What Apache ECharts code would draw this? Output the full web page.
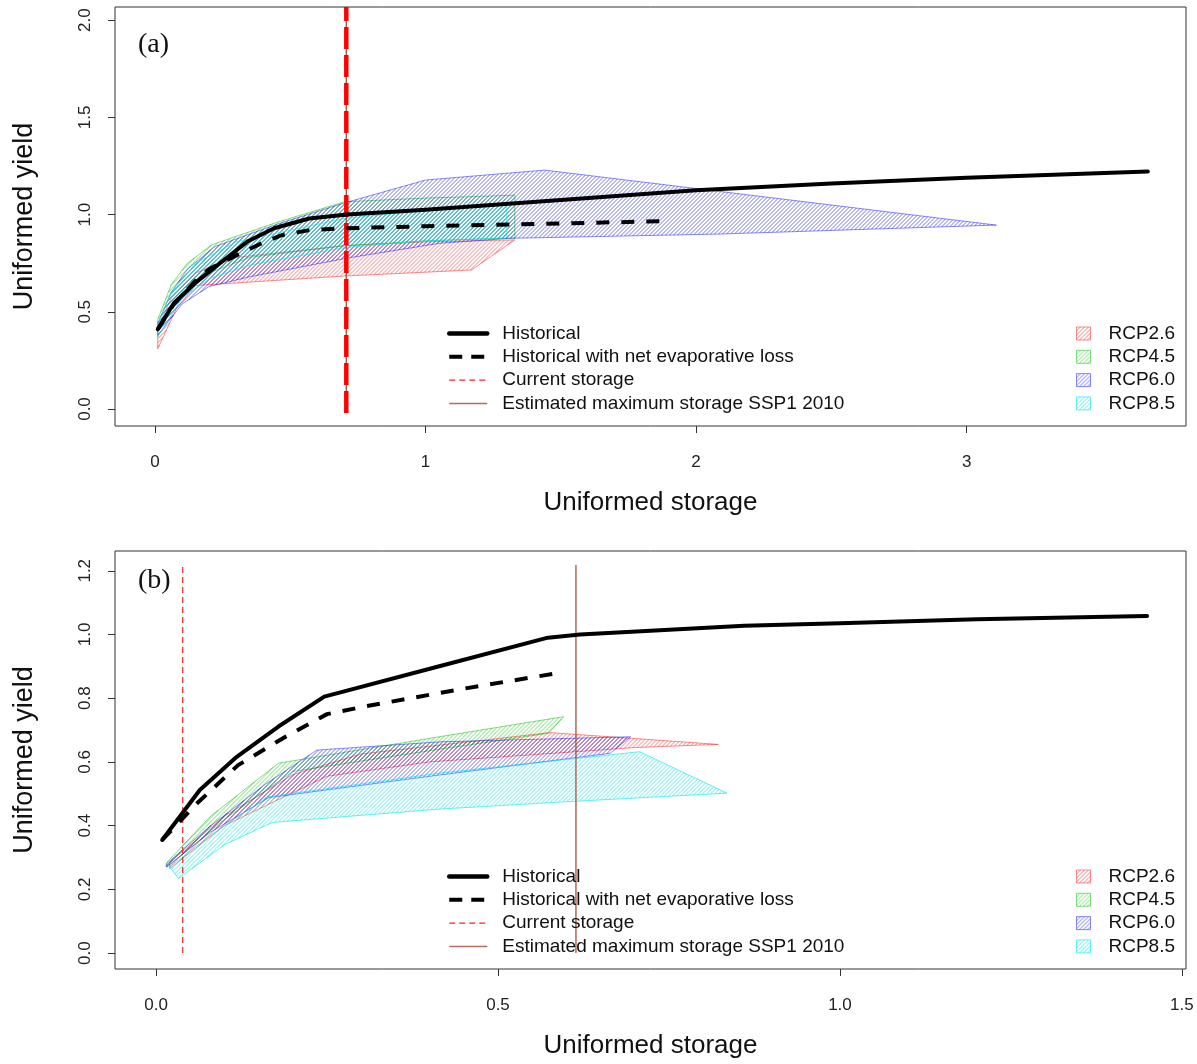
<!DOCTYPE html>
<html><head><meta charset="utf-8">
<script src="https://cdn.jsdelivr.net/npm/echarts@6/dist/echarts.min.js"></script>
<style>html,body{margin:0;padding:0;background:#fff}#c{width:1197px;height:1064px}</style>
</head><body><div id="c"></div><script>
// ---------- Panel (a) data ----------
const xTicksA = [0, 1, 2, 3];
const yTicksA = [0, 0.5, 1.0, 1.5, 2.0];
const histA_x = [0.01, 0.07, 0.15, 0.24, 0.34, 0.44, 0.57, 0.71, 1.0, 1.5, 2.0, 2.5, 3.0, 3.67];
const histA_y = [0.41, 0.545, 0.65, 0.75, 0.86, 0.93, 0.98, 1.0, 1.025, 1.075, 1.125, 1.16, 1.19, 1.222];
const evapA_x = [0.01, 0.07, 0.15, 0.20, 0.30, 0.39, 0.47, 0.57, 0.71, 1.0, 1.5, 1.89];
const evapA_y = [0.41, 0.54, 0.66, 0.72, 0.79, 0.85, 0.895, 0.92, 0.93, 0.94, 0.955, 0.966];
const rcp26A_x = [0.01, 0.06, 0.15, 0.30, 0.70, 1.00, 1.33, 1.17, 0.70, 0.15, 0.08, 0.01];
const rcp26A_y = [0.42, 0.57, 0.70, 0.78, 0.84, 0.86, 0.87, 0.715, 0.684, 0.635, 0.52, 0.31];
const rcp45A_x = [0.01, 0.06, 0.12, 0.21, 0.45, 0.70, 1.00, 1.33, 1.33, 1.00, 0.70, 0.35, 0.20, 0.10, 0.01];
const rcp45A_y = [0.46, 0.64, 0.75, 0.845, 0.96, 1.066, 1.085, 1.10, 0.88, 0.865, 0.84, 0.78, 0.70, 0.60, 0.40];
const rcp60A_x = [0.01, 0.06, 0.12, 0.22, 0.45, 0.70, 1.00, 1.44, 3.11, 2.09, 1.31, 1.05, 0.71, 0.35, 0.20, 0.10, 0.01];
const rcp60A_y = [0.44, 0.60, 0.72, 0.835, 0.95, 1.06, 1.178, 1.229, 0.946, 0.90, 0.878, 0.852, 0.776, 0.68, 0.63, 0.54, 0.38];
const rcp85A_x = [0.01, 0.06, 0.15, 0.30, 0.70, 1.00, 1.30, 1.30, 1.00, 0.70, 0.35, 0.20, 0.10, 0.01];
const rcp85A_y = [0.43, 0.60, 0.75, 0.86, 0.98, 1.02, 1.05, 0.88, 0.865, 0.83, 0.74, 0.67, 0.57, 0.37];
const curStorA_x = 0.707, curStorA_y = [-0.02, 2.068];
const maxStorA_x = 0.707, maxStorA_y = [-0.02, 2.068];

// ---------- Panel (b) data ----------
const xTicksB = [0, 0.5, 1.0, 1.5];
const yTicksB = [0, 0.2, 0.4, 0.6, 0.8, 1.0, 1.2];
const histB_x = [0.009, 0.064, 0.118, 0.179, 0.246, 0.41, 0.573, 0.62, 0.86, 1.0, 1.2, 1.449];
const histB_y = [0.355, 0.512, 0.616, 0.711, 0.805, 0.898, 0.99, 1.0, 1.027, 1.035, 1.048, 1.058];
const evapB_x = [0.009, 0.06, 0.12, 0.19, 0.25, 0.30, 0.45, 0.585];
const evapB_y = [0.355, 0.47, 0.59, 0.68, 0.75, 0.772, 0.83, 0.878];
const rcp26B_x = [0.02, 0.10, 0.20, 0.30, 0.576, 0.822, 0.70, 0.40, 0.25, 0.10, 0.02];
const rcp26B_y = [0.285, 0.43, 0.56, 0.625, 0.692, 0.655, 0.645, 0.60, 0.555, 0.40, 0.265];
const rcp45B_x = [0.016, 0.08, 0.179, 0.40, 0.596, 0.574, 0.40, 0.20, 0.10, 0.016];
const rcp45B_y = [0.285, 0.43, 0.596, 0.674, 0.742, 0.69, 0.635, 0.57, 0.42, 0.27];
const rcp60B_x = [0.015, 0.08, 0.16, 0.235, 0.415, 0.694, 0.664, 0.415, 0.165, 0.08, 0.015];
const rcp60B_y = [0.28, 0.40, 0.53, 0.637, 0.663, 0.679, 0.627, 0.559, 0.488, 0.38, 0.27];
const rcp85B_x = [0.02, 0.08, 0.162, 0.415, 0.707, 0.835, 0.60, 0.415, 0.17, 0.10, 0.033];
const rcp85B_y = [0.27, 0.37, 0.49, 0.565, 0.632, 0.502, 0.475, 0.452, 0.41, 0.34, 0.234];
const curStorB_x = 0.039, curStorB_y = [0, 1.215];
const maxStorB_x = 0.614, maxStorB_y = [0, 1.218];

const NAMES = ['Historical', 'Historical with net evaporative loss', 'Current storage', 'Estimated maximum storage SSP1 2010'];
const RCP = ['RCP2.6', 'RCP4.5', 'RCP6.0', 'RCP8.5'];

// ---------- styling ----------
const hatchCol = ['rgba(255,0,0,0.5)', 'rgba(0,200,0,0.55)', 'rgba(0,0,255,0.55)', 'rgba(0,235,235,0.65)'];
const borderCol = ['rgba(255,0,0,0.45)', 'rgba(0,190,0,0.5)', 'rgba(0,0,255,0.45)', 'rgba(0,230,230,0.6)'];
function hatch(color) {
  const s = 4;
  const c = document.createElement('canvas');
  c.width = s; c.height = s;
  const g = c.getContext('2d');
  g.strokeStyle = color; g.lineWidth = 1;
  g.beginPath();
  g.moveTo(0, s); g.lineTo(s, 0);
  g.moveTo(-1, 1); g.lineTo(1, -1);
  g.moveTo(s - 1, s + 1); g.lineTo(s + 1, s - 1);
  g.stroke();
  return { image: c, repeat: 'repeat' };
}
const pats = hatchCol.map(hatch);
const FONT = 'Liberation Sans, Arial, sans-serif';
const zip = (xs, ys) => xs.map((x, i) => [x, ys[i]]);
const HSTEP = 4;

function polySeries(name, k, xs, ys, gi) {
  return {
    type: 'custom', name, xAxisIndex: gi, yAxisIndex: gi, silent: true, z: 2,
    itemStyle: { color: borderCol[k] },
    data: [[xs[0], ys[0]]],
    renderItem: (params, api) => {
      const pts = xs.map((x, i) => api.coord([x, ys[i]]));
      let minC = Infinity, maxC = -Infinity;
      pts.forEach(p => { const c = p[0] + p[1]; if (c < minC) minC = c; if (c > maxC) maxC = c; });
      const children = [];
      for (let c = Math.ceil(minC / HSTEP) * HSTEP + 0.5; c < maxC; c += HSTEP) {
        const hits = [];
        for (let i = 0; i < pts.length; i++) {
          const a = pts[i], b = pts[(i + 1) % pts.length];
          const fa = a[0] + a[1] - c, fb = b[0] + b[1] - c;
          if ((fa < 0) !== (fb < 0)) {
            const t = fa / (fa - fb);
            hits.push(a[0] + t * (b[0] - a[0]));
          }
        }
        hits.sort((p, q) => p - q);
        for (let j = 0; j + 1 < hits.length; j += 2) {
          children.push({ type: 'line', silent: true,
            shape: { x1: hits[j], y1: c - hits[j], x2: hits[j + 1], y2: c - hits[j + 1] },
            style: { stroke: hatchCol[k], lineWidth: 1, fill: null } });
        }
      }
      children.push({ type: 'polygon', silent: true, shape: { points: pts },
        style: { fill: null, stroke: borderCol[k], lineWidth: 1 } });
      return { type: 'group', children };
    }
  };
}
function lineSeries(name, data, gi, ls, z) {
  return { type: 'line', name, xAxisIndex: gi, yAxisIndex: gi, data, symbol: 'none',
    showSymbol: false, silent: true, lineStyle: ls, itemStyle: { color: ls.color },
    z: z || 3, animation: false };
}

const histStyle = { color: '#000', width: 4, cap: 'round', join: 'round' };
const evapStyle = { color: '#000', width: 4, type: [13, 12], cap: 'butt' };
const brown = '#A8503A';

function panelSeries(gi, polys, hx, hy, ex, ey, cx, cy, mx, my, curStyle) {
  const s = [];
  RCP.forEach((n, k) => s.push(polySeries(n, k, polys[k][0], polys[k][1], gi)));
  s.push(lineSeries(NAMES[3], [[mx, my[0]], [mx, my[1]]], gi, { color: brown, width: 1.3 }));
  s.push(lineSeries(NAMES[2], [[cx, cy[0]], [cx, cy[1]]], gi, curStyle, 4));
  s.push(lineSeries(NAMES[0], zip(hx, hy), gi, histStyle, 5));
  s.push(lineSeries(NAMES[1], zip(ex, ey), gi, evapStyle, 5));
  return s;
}

const series = [].concat(
  panelSeries(0, [[rcp26A_x, rcp26A_y], [rcp45A_x, rcp45A_y], [rcp60A_x, rcp60A_y], [rcp85A_x, rcp85A_y]],
    histA_x, histA_y, evapA_x, evapA_y, curStorA_x, curStorA_y, maxStorA_x, maxStorA_y,
    { color: '#FF0000', width: 4.5, type: [22, 6] }),
  panelSeries(1, [[rcp26B_x, rcp26B_y], [rcp45B_x, rcp45B_y], [rcp60B_x, rcp60B_y], [rcp85B_x, rcp85B_y]],
    histB_x, histB_y, evapB_x, evapB_y, curStorB_x, curStorB_y, maxStorB_x, maxStorB_y,
    { color: '#FF2020', width: 1.2, type: [6, 4] })
);

function xAxis(gi, min, max, ticks, fmt) {
  return { type: 'value', gridIndex: gi, min, max,
    name: 'Uniformed storage', nameLocation: 'middle', nameGap: 64,
    nameTextStyle: { fontFamily: FONT, fontSize: 26, color: '#111' },
    axisLine: { show: false, onZero: false }, splitLine: { show: false },
    axisTick: { show: true, inside: false, length: 7, customValues: ticks, lineStyle: { color: '#333' } },
    axisLabel: { customValues: ticks, formatter: fmt, margin: 28, fontFamily: FONT, fontSize: 17, color: '#222' } };
}
function yAxis(gi, min, max, ticks) {
  return { type: 'value', gridIndex: gi, min, max,
    name: 'Uniformed yield', nameLocation: 'middle', nameGap: 77, nameRotate: 90,
    nameTextStyle: { fontFamily: FONT, fontSize: 27, color: '#111' },
    axisLine: { show: false, onZero: false }, splitLine: { show: false },
    axisTick: { show: true, inside: false, length: 7, customValues: ticks, lineStyle: { color: '#333' } },
    axisLabel: { customValues: ticks, formatter: v => v.toFixed(1), rotate: 90, margin: 21,
      fontFamily: FONT, fontSize: 17, color: '#222' } };
}

function legends(top) {
  const hide = { opacity: 0 };
  const lineItems = [
    { name: NAMES[0], itemStyle: hide, lineStyle: { color: '#000', width: 4.5, type: 'solid' } },
    { name: NAMES[1], itemStyle: hide, lineStyle: { color: '#000', width: 4, type: [13, 9] } },
    { name: NAMES[2], itemStyle: hide, lineStyle: { color: '#FF2020', width: 1.2, type: [6, 4] } },
    { name: NAMES[3], itemStyle: hide, lineStyle: { color: '#B07060', width: 1.5, type: 'solid' } }
  ];
  const rcpItems = RCP.map((n, k) => ({ name: n, icon: 'rect',
    itemStyle: { color: pats[k], borderColor: borderCol[k], borderWidth: 1 } }));
  return [
    { data: lineItems, orient: 'vertical', left: 442, top, itemWidth: 38, itemHeight: 14, itemGap: 4.3,
      selectedMode: false, textStyle: { fontFamily: FONT, fontSize: 19, color: '#111', padding: [0, 0, 0, 10] } },
    { data: rcpItems, orient: 'vertical', left: 1071, top, itemWidth: 14, itemHeight: 13, itemGap: 4.3,
      selectedMode: false, textStyle: { fontFamily: FONT, fontSize: 19, color: '#111', padding: [0, 0, 0, 13] } }
  ];
}

const option = {
  animation: false,
  backgroundColor: '#fff',
  title: [
    { text: '(a)', left: 133, top: 26, textStyle: { fontFamily: 'Liberation Serif, Times New Roman, serif', fontSize: 28, fontWeight: 'normal', color: '#111' } },
    { text: '(b)', left: 133, top: 562, textStyle: { fontFamily: 'Liberation Serif, Times New Roman, serif', fontSize: 28, fontWeight: 'normal', color: '#111' } }
  ],
  grid: [
    { left: 115, right: 11, top: 7, bottom: 638, show: true, borderColor: '#333', borderWidth: 1, backgroundColor: 'transparent' },
    { left: 115, right: 11, top: 551, bottom: 95, show: true, borderColor: '#333', borderWidth: 1, backgroundColor: 'transparent' }
  ],
  xAxis: [
    xAxis(0, -0.148, 3.811, xTicksA, v => String(Math.round(v))),
    xAxis(1, -0.06, 1.506, xTicksB, v => v.toFixed(1))
  ],
  yAxis: [
    yAxis(0, -0.0875, 2.068, yTicksA),
    yAxis(1, -0.05, 1.262, yTicksB)
  ],
  legend: [].concat(legends(319), legends(862)),
  series
};
const chart = echarts.init(document.getElementById('c'), null, { renderer: 'canvas' });
chart.setOption(option);
</script></body></html>
